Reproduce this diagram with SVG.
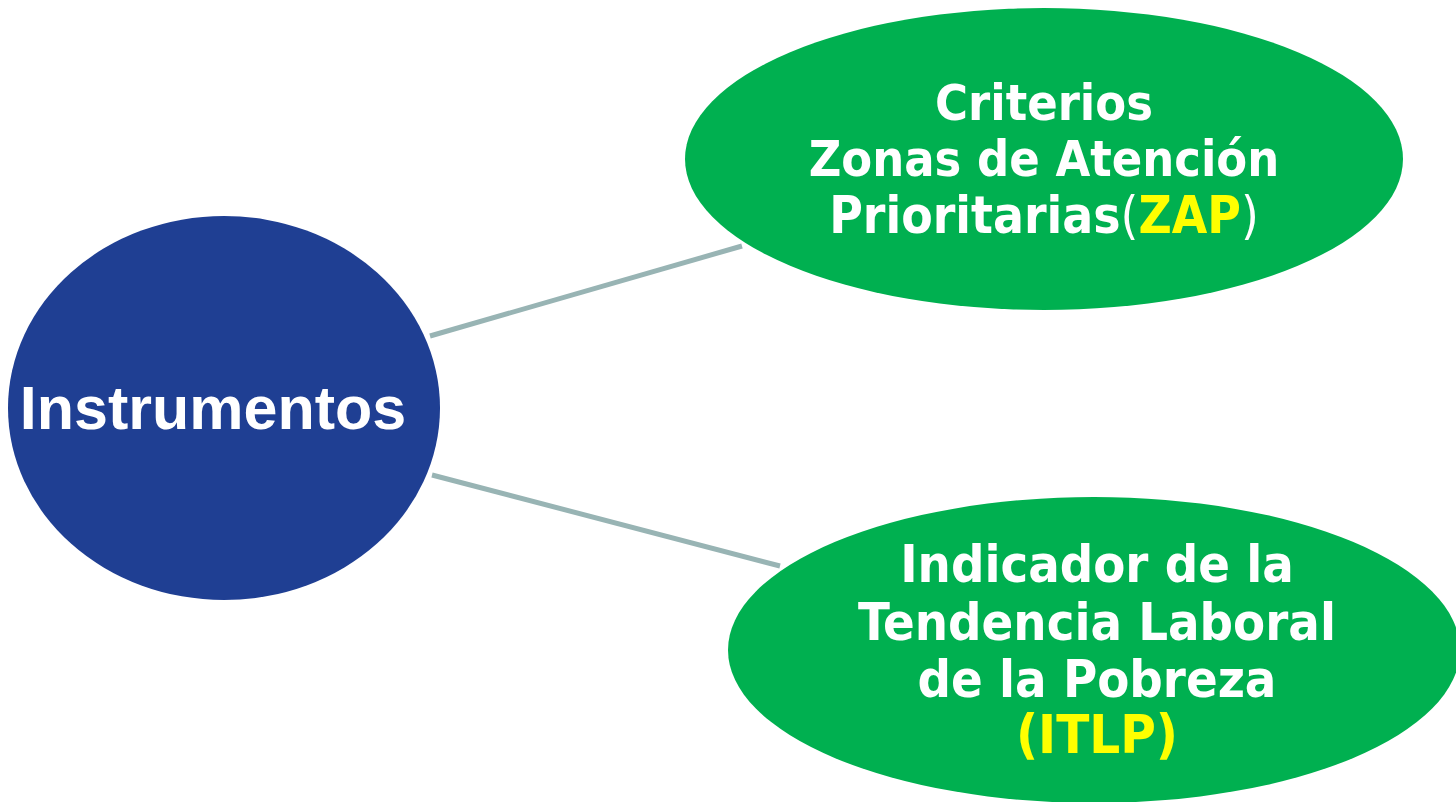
<svg xmlns="http://www.w3.org/2000/svg" width="1456" height="802" viewBox="0 0 1456 802">
<style>
.conn{stroke:#98B4B4;stroke-width:5;fill:none}
.green{fill:#00B050}
.blue{fill:#1F3F93}
.gt{font-family:"DejaVu Sans Condensed","DejaVu Sans",sans-serif;font-stretch:condensed;font-weight:bold;fill:#FFFFFF;text-anchor:middle}
.par{font-weight:normal}
.y{fill:#FFFF00}
.bt{font-family:"Liberation Sans",Arial,sans-serif;font-weight:bold;fill:#FFFFFF;font-size:61px;text-anchor:middle}
</style>
<rect width="1456" height="802" fill="#FFFFFF"/>
<g id="connectors">
<line class="conn" x1="430" y1="336" x2="742" y2="246"/>
<line class="conn" x1="432" y1="475" x2="780" y2="566"/>
</g>
<g id="node-instrumentos">
<ellipse class="blue" cx="224" cy="408" rx="216" ry="192"/>
<text class="bt" x="213" y="429">Instrumentos</text>
</g>
<g id="node-zap">
<ellipse class="green" cx="1044" cy="159" rx="359" ry="151"/>
<text class="gt" font-size="50" x="1044" y="120">Criterios</text>
<text class="gt" font-size="50" x="1044" y="176">Zonas de Atención</text>
<text class="gt" font-size="51" x="1044" y="233">Prioritarias<tspan class="par">(</tspan><tspan class="y">ZAP</tspan><tspan class="par">)</tspan></text>
</g>
<g id="node-itlp">
<ellipse class="green" cx="1094" cy="650" rx="366" ry="153"/>
<text class="gt" font-size="52" x="1097" y="582">Indicador de la</text>
<text class="gt" font-size="52" x="1097" y="640">Tendencia Laboral</text>
<text class="gt" font-size="52" x="1097" y="697">de la Pobreza</text>
<text class="gt y" font-size="54" x="1097" y="753">(ITLP)</text>
</g>
</svg>
